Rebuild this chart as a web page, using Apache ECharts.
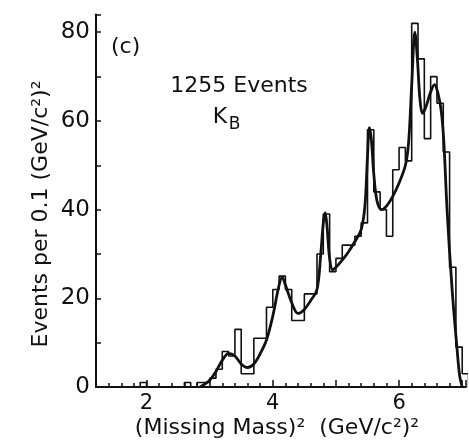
<!DOCTYPE html>
<html>
<head>
<meta charset="utf-8">
<script src="https://cdn.jsdelivr.net/npm/echarts@6/dist/echarts.min.js"></script>
<style>
  html, body { margin: 0; padding: 0; background: #fff; }
  #chart { width: 469px; height: 440px; }
</style>
</head>
<body>
<div id="chart"></div>
<script>
// Histogram of (missing mass)^2, 0.1 (GeV/c^2)^2 bins: lower bin edge and event count
const binStart = [1.9, 2.0, 2.1, 2.2, 2.3, 2.4, 2.5, 2.6, 2.7, 2.8, 2.9,
                  3.0, 3.1, 3.2, 3.3, 3.4, 3.5, 3.6, 3.7, 3.8, 3.9,
                  4.0, 4.1, 4.2, 4.3, 4.4, 4.5, 4.6, 4.7, 4.8, 4.9,
                  5.0, 5.1, 5.2, 5.3, 5.4, 5.5, 5.6, 5.7, 5.8, 5.9,
                  6.0, 6.1, 6.2, 6.3, 6.4, 6.5, 6.6, 6.7, 6.8, 6.9,
                  7.0];
const binCounts = [1, 0, 0, 0, 0, 0, 0, 1, 0, 1, 1,
                   2, 4, 8, 7, 13, 3, 3, 11, 11, 18,
                   22, 25, 22, 15, 15, 21, 21, 30, 39, 26,
                   29, 32, 32, 34, 37, 58, 44, 40, 34, 49,
                   54, 51, 82, 74, 56, 70, 64, 53, 27, 9,
                   3];
const lastBinEnd = 7.1;

// Fitted curve through the spectrum
const fitMass = [2.85, 3.0, 3.1, 3.2, 3.3, 3.4, 3.5, 3.6, 3.7, 3.8, 3.9,
                 4.0, 4.1, 4.15, 4.2, 4.3, 4.4, 4.5, 4.6, 4.7, 4.76, 4.8, 4.83, 4.86, 4.9, 4.95,
                 5.0, 5.1, 5.2, 5.3, 5.4, 5.46, 5.5, 5.53, 5.56, 5.6, 5.65, 5.72, 5.8, 5.9,
                 6.0, 6.1, 6.15, 6.2, 6.25, 6.29, 6.33, 6.37, 6.42, 6.5, 6.56, 6.62, 6.67, 6.71,
                 6.76, 6.84, 6.92, 6.96, 7.0];
const fitEvents = [0, 1.5, 3.5, 6, 7.6, 7.0, 5.2, 4.4, 5.2, 7.5, 10.6,
                   16, 23, 24.7, 23, 19, 16.6, 17.5, 19.5, 22, 30, 37, 39.3, 36, 29, 26.4,
                   27, 28.6, 30.5, 32.8, 35.5, 41, 52, 58.5, 56, 48, 42, 40, 40.8, 43,
                   46, 50, 55, 68, 80, 74, 65, 61.7, 63, 66.5, 68.2, 66, 62, 55,
                   40, 22, 8.3, 2.5, 0];

// Axis ranges and tick labels
const xRange = [1.2, 7.06];
const yRange = [0, 84];
const xLabels = [2, 4, 6];
const yLabels = [0, 20, 40, 60, 80];

const ink = '#111';
const font = 'DejaVu Sans';

const histPoints = [[binStart[0], 0]];
binStart.forEach((s, i) => histPoints.push([s, binCounts[i]]));
histPoints.push([lastBinEnd, 0]);

const fitPoints = fitMass.map((m, i) => [m, fitEvents[i]]);

const chart = echarts.init(document.getElementById('chart'), null, { renderer: 'canvas' });

chart.setOption({
  animation: false,
  backgroundColor: '#fff',
  grid: { left: 96, right: 0, top: 14.5, bottom: 53, containLabel: false },
  xAxis: [
    {
      type: 'value', position: 'bottom',
      min: xRange[0], max: xRange[1], interval: 0.2,
      axisLine: { show: true, lineStyle: { color: ink, width: 2 } },
      axisTick: { show: true, inside: true, length: 4, lineStyle: { color: ink, width: 1.5 } },
      axisLabel: {
        color: ink, fontFamily: font, fontSize: 21, margin: 6,
        formatter: v => {
          const r = Math.round(v);
          return (Math.abs(v - r) < 1e-6 && xLabels.includes(r)) ? String(r) : '';
        }
      },
      splitLine: { show: false }
    },
    {
      type: 'value', position: 'bottom',
      min: xRange[0], max: xRange[1], minInterval: 1, maxInterval: 1, splitNumber: 6,
      axisLine: { show: false },
      axisTick: { show: true, inside: true, length: 7, lineStyle: { color: ink, width: 1.5 } },
      axisLabel: { show: false },
      splitLine: { show: false }
    }
  ],
  yAxis: {
    type: 'value',
    min: yRange[0], max: yRange[1], interval: 10,
    axisLine: { show: true, lineStyle: { color: ink, width: 2 } },
    axisTick: { show: true, inside: true, length: 5, lineStyle: { color: ink, width: 1.5 } },
    axisLabel: {
      color: ink, fontFamily: font, fontSize: 23, margin: 6,
      formatter: v => yLabels.includes(v) ? String(v) : ''
    },
    splitLine: { show: false }
  },
  series: [
    {
      name: 'histogram', type: 'line', step: 'end',
      data: histPoints, symbol: 'none', clip: true,
      lineStyle: { color: ink, width: 1.6 }
    },
    {
      name: 'fit', type: 'line', smooth: 0.35,
      data: fitPoints, symbol: 'none', clip: true,
      lineStyle: { color: ink, width: 2.8 }
    }
  ],
  graphic: [
    { type: 'text', left: 111, top: 36,
      style: { text: '(c)', font: '22px "DejaVu Sans"', fill: ink } },
    { type: 'text', x: 239, y: 86,
      style: { text: '1255 Events', font: '22px "DejaVu Sans"', fill: ink, align: 'center', verticalAlign: 'middle' } },
    { type: 'text', x: 220, y: 117,
      style: { text: 'K', font: '22px "DejaVu Sans"', fill: ink, align: 'center', verticalAlign: 'middle' } },
    { type: 'text', x: 234.5, y: 125,
      style: { text: 'B', font: '17px "DejaVu Sans"', fill: ink, align: 'center', verticalAlign: 'middle' } },
    { type: 'text', x: 41, y: 214, rotation: Math.PI / 2,
      style: { text: 'Events per 0.1 (GeV/c²)²', font: '22px "DejaVu Sans"', fill: ink, align: 'center', verticalAlign: 'middle' } },
    { type: 'text', x: 277, y: 428,
      style: { text: '(Missing Mass)²  (GeV/c²)²', font: '22px "DejaVu Sans"', fill: ink, align: 'center', verticalAlign: 'middle' } }
  ]
});
</script>
</body>
</html>
